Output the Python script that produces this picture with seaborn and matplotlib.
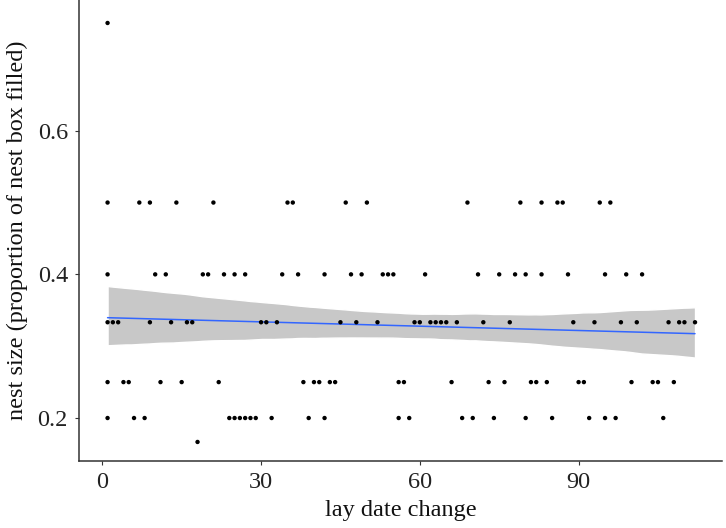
import numpy as np
import pandas as pd
import matplotlib
matplotlib.use("Agg")
import matplotlib.pyplot as plt
import seaborn as sns

# lay date change values, grouped by the nest size level they sit at
x_075 = [1]
x_050 = [1, 7, 9, 14, 21, 35, 36, 46, 50, 69, 79, 83, 86, 87, 94, 96]
x_040 = [1, 10, 12, 19, 20, 23, 25, 27, 34, 37, 42, 47, 49, 53, 54, 55, 61,
         71, 75, 78, 80, 83, 88, 95, 99, 102]
x_033 = [1, 2, 3, 9, 13, 16, 17, 30, 31, 33, 45, 48, 52, 59, 60, 62, 63, 64,
         65, 67, 72, 77, 89, 93, 98, 101, 107, 109, 110, 112]
x_025 = [1, 4, 5, 11, 15, 22, 38, 40, 41, 43, 44, 56, 57, 66, 73, 76, 81, 82,
         84, 90, 91, 100, 104, 105, 108]
x_020 = [1, 6, 8, 24, 25, 26, 27, 28, 29, 32, 39, 42, 56, 58, 68, 70, 74, 80,
         85, 92, 95, 97, 106]
x_017 = [18]

levels = {0.75: x_075, 0.5: x_050, 0.4: x_040, 1 / 3: x_033,
          0.25: x_025, 0.2: x_020, 1 / 6: x_017}

rows = []
for size, xs in levels.items():
    for xv in xs:
        rows.append({"lay date change": xv, "nest size": size})
df = pd.DataFrame(rows)

sns.set_style("white")
plt.rcParams["font.family"] = ["Liberation Serif", "DejaVu Serif"]

fig = plt.figure(figsize=(7.26, 5.28), dpi=100)
ax = fig.add_axes([0.1088, 0.1275, 0.8857, 0.8725])

# linear fit with 95% band (band recoloured grey, ggplot-like)
sns.regplot(data=df, x="lay date change", y="nest size", scatter=False,
            ci=95, seed=0, color="#3366FF", line_kws={"linewidth": 1.1}, ax=ax)
band = ax.collections[-1]
band.set_facecolor("#c8c8c8")
band.set_alpha(1)

sns.scatterplot(data=df, x="lay date change", y="nest size", color="black",
                s=10, edgecolor="none", ax=ax, zorder=3)

ax.set_xlim(-4.4, 117.1)
ax.set_ylim(0.1406, 0.782)
ax.set_xticks([0, 30, 60, 90])
ax.set_yticks([0.2, 0.4, 0.6])
ax.set_yticklabels(["0.2", "0.4", "0.6"])

for side in ["top", "right"]:
    ax.spines[side].set_visible(False)
for side in ["left", "bottom"]:
    ax.spines[side].set_color("#333333")
    ax.spines[side].set_linewidth(1.1)

ax.tick_params(axis="both", which="major", direction="out", length=3,
               width=0.8, color="#333333", labelsize=17.5, labelcolor="#222222",
               bottom=True, left=True, pad=5)

ax.set_xlabel("lay date change", fontsize=17.5, color="#111111", labelpad=5)
ax.set_ylabel("nest size (proportion of nest box filled)", fontsize=17.5,
              color="#111111", labelpad=7)

plt.savefig("out.png", dpi=100)
plt.close()
